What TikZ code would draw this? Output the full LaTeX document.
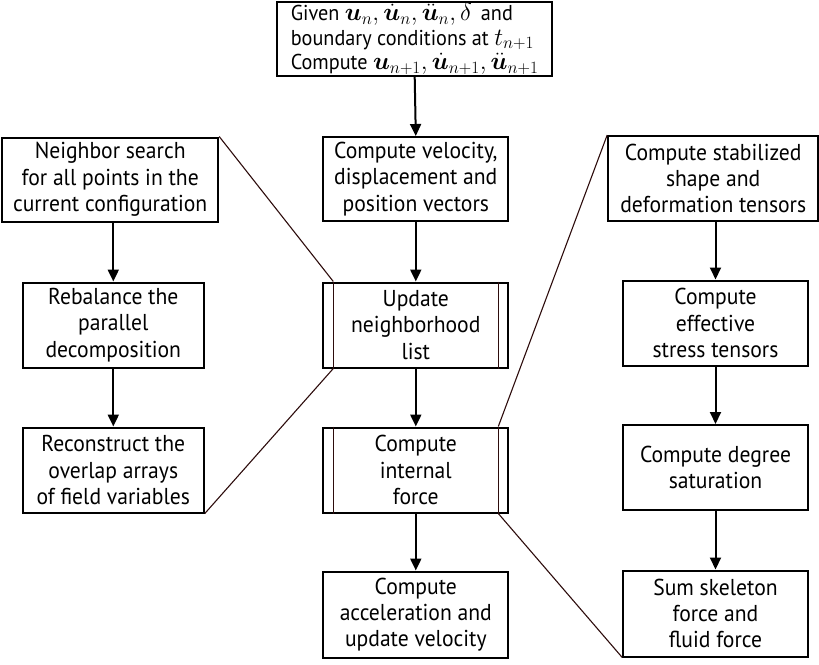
\documentclass[tikz,border=0pt]{standalone}
\usepackage{amsmath}
\usepackage{bm}
\usepackage{fontspec}
\setmainfont{PT Sans}[FakeStretch=0.94]
\usetikzlibrary{arrows.meta}
\definecolor{zoomc}{RGB}{45,12,12}
\newcommand{\bigmath}[1]{{\fontsize{27}{24.5}\selectfont$#1$}}
\begin{document}
\begin{tikzpicture}[x=1pt,y=-1pt,
  box/.style={draw=black,line width=2pt,rectangle,align=center,inner sep=0pt,
    font=\fontsize{23}{26.3}\selectfont},
  flow/.style={line width=2pt,-{Triangle[width=11pt,length=12pt]}},
  zoomline/.style={draw=zoomc,line width=1.1pt},
  inner/.style={draw=zoomc,line width=1.6pt}]
\useasboundingbox (0,0) rectangle (819,664);
% top box
\node[box,minimum width=275pt,minimum height=74pt,align=left,
  font=\fontsize{21.5}{24.5}\selectfont] (top) at (414.7,39)
 {\lineskiplimit=-20pt\relax Given \bigmath{\bm{u}_n,\dot{\bm{u}}_n,\ddot{\bm{u}}_n,\delta}\, and\\
  boundary conditions at \bigmath{t_{n+1}}\\
  Compute \bigmath{\bm{u}_{n+1},\dot{\bm{u}}_{n+1},\ddot{\bm{u}}_{n+1}}};
% middle column
\node[box,minimum width=185pt,minimum height=84pt] (vel) at (415.8,179)
 {Compute velocity,\\displacement and\\position vectors};
\node[box,minimum width=185pt,minimum height=85pt] (upd) at (415.8,325)
 {Update\\neighborhood\\list};
\node[box,minimum width=185pt,minimum height=85pt] (int) at (415.8,470)
 {Compute\\internal\\force};
\node[box,minimum width=185pt,minimum height=86pt] (acc) at (415.8,614.5)
 {Compute\\acceleration and\\update velocity};
% left column
\node[box,minimum width=216pt,minimum height=84pt] (nb) at (110.2,179.5)
 {Neighbor search\\for all points in the\\current configuration};
\node[box,minimum width=181pt,minimum height=85pt] (reb) at (113.3,325)
 {Rebalance the\\parallel\\decomposition};
\node[box,minimum width=181pt,minimum height=85pt] (rec) at (113.3,470)
 {Reconstruct the\\overlap arrays\\of field variables};
% right column
\node[box,minimum width=210pt,minimum height=85pt] (stab) at (713.2,178.5)
 {Compute stabilized\\shape and\\deformation tensors};
\node[box,minimum width=184.5pt,minimum height=85pt] (eff) at (715.5,323)
 {Compute\\effective\\stress tensors};
\node[box,minimum width=184.5pt,minimum height=85pt] (deg) at (715.5,467.5)
 {Compute degree\\saturation};
\node[box,minimum width=184.5pt,minimum height=86pt] (sum) at (715.5,613.5)
 {Sum skeleton\\force and\\fluid force};
% inner lines of double boxes
\coordinate (uLT) at ([xshift=11pt]upd.north west);
\coordinate (uLB) at ([xshift=11pt]upd.south west);
\coordinate (uRT) at ([xshift=-11pt]upd.north east);
\coordinate (uRB) at ([xshift=-11pt]upd.south east);
\coordinate (iLT) at ([xshift=11pt]int.north west);
\coordinate (iLB) at ([xshift=11pt]int.south west);
\coordinate (iRT) at ([xshift=-11pt]int.north east);
\coordinate (iRB) at ([xshift=-11pt]int.south east);
\draw[inner] (uLT) -- (uLB);
\draw[inner] (uRT) -- (uRB);
\draw[inner] (iLT) -- (iLB);
\draw[inner] (iRT) -- (iRB);
% zoom lines
\draw[zoomline] (nb.north east) -- (uLT);
\draw[zoomline] (rec.south east) -- (uLB);
\draw[zoomline] (stab.north west) -- (iRT);
\draw[zoomline] (iRB) -- (sum.south west);
% arrows
\draw[flow] (top.south) -- (vel.north);
\draw[flow] (vel.south) -- (upd.north);
\draw[flow] (upd.south) -- (int.north);
\draw[flow] (int.south) -- (acc.north);
\draw[flow] (nb.south -| reb.north) -- (reb.north);
\draw[flow] (reb.south) -- (rec.north);
\draw[flow] (stab.south -| eff.north) -- (eff.north);
\draw[flow] (eff.south) -- (deg.north);
\draw[flow] (deg.south) -- (sum.north);
\end{tikzpicture}
\end{document}
